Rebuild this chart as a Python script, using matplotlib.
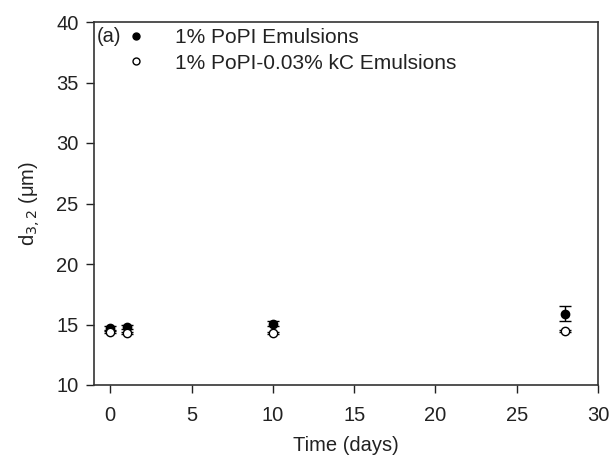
import matplotlib.pyplot as plt
from matplotlib.lines import Line2D

plt.rcParams['font.family'] = ['Liberation Sans', 'DejaVu Sans']

# droplet size over storage time
days = [0, 1, 10, 28]
popi = [14.7, 14.8, 15.05, 15.9]
popi_err = [0.15, 0.15, 0.2, 0.6]
popi_kc = [14.4, 14.3, 14.3, 14.45]
popi_kc_err = [0.1, 0.1, 0.1, 0.1]
labels = ['1% PoPI Emulsions', '1% PoPI-0.03% kC Emulsions']

fig = plt.figure(figsize=(6.12, 4.63), dpi=100)
ax = fig.add_axes([94/612, 1 - 385/463, (598 - 94)/612, (385 - 22)/463])

ax.errorbar(days, popi, yerr=popi_err, fmt='o', color='black', ms=6,
            capsize=4, elinewidth=1, zorder=3)
ax.errorbar(days, popi_kc, yerr=popi_kc_err, fmt='o', mfc='white', mec='black',
            ecolor='black', ms=6, capsize=4, elinewidth=1, zorder=4)

ax.set_xlim(-1, 30)
ax.set_ylim(10, 40)
ax.set_xticks([0, 5, 10, 15, 20, 25, 30])
ax.set_yticks([10, 15, 20, 25, 30, 35, 40])
ax.tick_params(direction='out', length=6, width=1, labelsize=14.5, colors='#222222', pad=5)
ax.tick_params(axis='x', pad=9)
for s in ax.spines.values():
    s.set_linewidth(1.2)
    s.set_color('#333333')

ax.set_xlabel('Time (days)', fontsize=14.5, color='#222222', labelpad=8)
ax.set_ylabel(r'd$_{3,2}$ ($\mathregular{\mu}$m)', fontsize=14.5, color='#222222', labelpad=10)

ax.text(0.005, 0.985, '(a)', transform=ax.transAxes, fontsize=14.5, va='top', color='#222222')
handles = [Line2D([], [], ls='none', marker='o', color='black', ms=5),
           Line2D([], [], ls='none', marker='o', mfc='white', mec='black', ms=5)]
leg = ax.legend(handles, labels, loc='upper left', bbox_to_anchor=(0.025, 1.035),
                frameon=False, fontsize=15, handlelength=1, handletextpad=1.4,
                labelspacing=0.32)
for t in leg.get_texts():
    t.set_color('#222222')

fig.savefig('out.png', dpi=100)
